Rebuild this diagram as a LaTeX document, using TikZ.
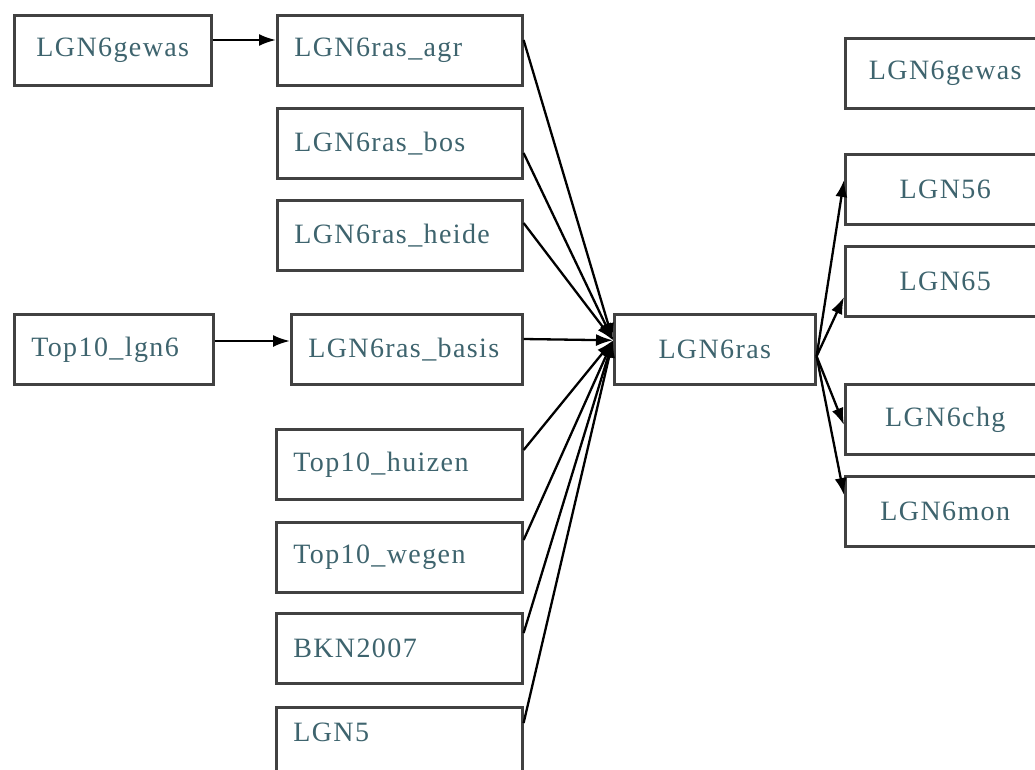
\documentclass[tikz,border=0pt]{standalone}
\usepackage{fontspec}
\setmainfont{Liberation Serif}[LetterSpace=5]
\usetikzlibrary{arrows.meta,calc}
\definecolor{txt}{RGB}{62,100,110}
\definecolor{frame}{RGB}{65,65,65}
\begin{document}
\begin{tikzpicture}[x=1pt,y=-1pt,
  box/.style={draw=frame,line width=2.6pt,fill=white,anchor=north west,
    minimum height=70pt,inner ysep=0pt,font=\fontsize{28}{30}\selectfont,text=txt},
  lbox/.style={box,inner xsep=17pt,text width=#1,align=left},
  cbox/.style={box,minimum width=#1,align=center},
  conn/.style={draw=black,line width=2.3pt},
  arr/.style={conn,-{Latex[length=17pt,width=12pt]}}
]
\clip (0,0) rectangle (1035,769);
\fill[white] (0,0) rectangle (1035,769);
% left column
\node[cbox=197pt] (gewasL) at (13,14) {LGN6gewas};
\node[lbox=165pt] (top) at (13,313) {Top10\_lgn6};
% middle column
\node[lbox=211pt] (agr) at (276,14) {LGN6ras\_agr};
\node[lbox=211pt] (bos) at (276,107) {LGN6ras\_bos};
\node[lbox=211pt] (heide) at (276,199) {LGN6ras\_heide};
\node[lbox=197pt] (basis) at (290,313) {LGN6ras\_basis};
\node[lbox=212pt] (huizen) at (275,428) {Top10\_huizen};
\node[lbox=212pt] (wegen) at (275,521) {Top10\_wegen};
\node[lbox=212pt] (bkn) at (275,612) {BKN2007};
\node[lbox=212pt,text depth=21pt] (lgnfive) at (275,706) {LGN5};
% centre
\node[cbox=201pt] (ras) at (613,313) {LGN6ras};
% right column
\node[cbox=200pt] (gewasR) at (844,37) {LGN6gewas};
\node[cbox=200pt] (r56) at (844,153) {LGN56};
\node[cbox=200pt] (r65) at (844,245) {LGN65};
\node[cbox=200pt] (rchg) at (844,383) {LGN6chg};
\node[cbox=200pt] (rmon) at (844,475) {LGN6mon};
% coordinates
\coordinate (tip) at ($(ras.west)+(0,-9)$);
\coordinate (out) at ($(ras.east)+(0,7)$);
% edges
\draw[arr] ($(gewasL.north east)+(0,26)$) -- ($(agr.north west)+(0,26)$);
\draw[arr] ($(top.north east)+(0,28)$) -- ($(basis.north west)+(0,28)$);
\draw[arr] ($(agr.north east)+(0,26)$) -- (tip);
\draw[arr] ($(bos.north east)+(0,46)$) -- (tip);
\draw[arr] ($(heide.north east)+(0,24)$) -- (tip);
\draw[arr] ($(basis.north east)+(0,26)$) -- (tip);
\draw[arr] ($(huizen.north east)+(0,22)$) -- (tip);
\draw[arr] ($(wegen.north east)+(0,19)$) -- (tip);
\draw[arr] ($(bkn.north east)+(0,21)$) -- (tip);
\draw[arr] ($(lgnfive.north east)+(0,17)$) -- (tip);
\draw[arr] (out) -- ($(r56.north west)+(0,27)$);
\draw[arr] (out) -- ($(r65.north west)+(0,52)$);
\draw[arr] (out) -- ($(rchg.north west)+(0,42)$);
\draw[arr] (out) -- ($(rmon.north west)+(0,20)$);
\end{tikzpicture}
\end{document}
